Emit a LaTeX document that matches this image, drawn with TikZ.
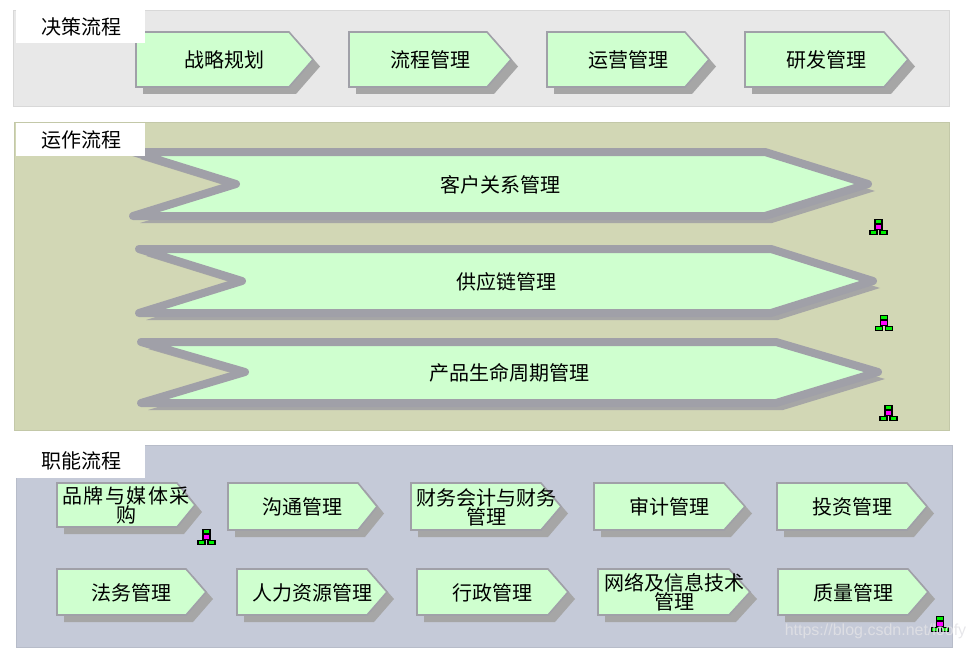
\documentclass[tikz,border=0pt]{standalone}
\usepackage{fontspec}
\setmainfont{Noto Sans CJK SC}
\newfontfamily\markfont{Liberation Sans}
\newcommand{\wideText}{\addfontfeatures{LetterSpace=7.5}}
\definecolor{panelGrey}{HTML}{E8E8E8}
\definecolor{panelOlive}{HTML}{D2D7B5}
\definecolor{panelBlue}{HTML}{C5CAD8}
\definecolor{arrowFill}{HTML}{CFFFCF}
\definecolor{arrowEdge}{HTML}{A0A0A8}
\definecolor{arrowShadow}{HTML}{A6A6A6}
\definecolor{iconGreen}{HTML}{00F000}
\definecolor{iconPink}{HTML}{FF00FF}
\definecolor{markGrey}{HTML}{E2E2E6}
\begin{document}
\begin{tikzpicture}
[x=1pt,y=-1pt,
  panelDecorate/.style={draw=#1!93!black,line width=0.8pt,fill=#1},
  titleDecorate/.style={shape=rectangle,fill=white,minimum width=129pt,minimum height=33pt,inner sep=0pt,font=\fontsize{20}{20}\selectfont},
  labelDecorate/.style={shape=rectangle,align=center,inner sep=0pt,yshift=-0.5pt,font=\fontsize{20}{19}\selectfont},
  arrowDecorate/.style={draw=arrowEdge,line width=1.6pt,fill=arrowFill},
  bigDecorate/.style={draw=arrowEdge,line width=8pt,line join=round,fill=arrowFill},
  shadowDecorate/.style={fill=arrowShadow},
  iconBox/.style={shape=rectangle,minimum width=7pt,minimum height=4.5pt,inner sep=0pt,outer sep=0pt,draw=black,line width=1.1pt,fill=#1},
  iconLine/.style={draw=black!60,line width=0.8pt}]
\useasboundingbox (0,0) rectangle (973,650);
%% panels
\foreach \panelname/\xa/\ya/\xb/\yb/\col in {
  decision/13/10/949/106/panelGrey,
  operation/14/122/949/430/panelOlive,
  support/16/445/952/647/panelBlue}
{
  \draw[panelDecorate=\col] (\xa,\ya) rectangle (\xb,\yb);
}
%% small arrows: name/left/shoulder/tip/top/bottom/label
\foreach \nodename/\xl/\xs/\xt/\yt/\yb/\txt in {
  plan/136/289/313/32/87/战略规划,
  flow/349/487/511/32/87/流程管理,
  oper/547/685/709/32/87/运营管理,
  rnd/745/884/908/32/87/研发管理,
  brand/57/177/195/483/527/{\wideText 品牌与媒体采\\购},
  comm/228/358/377/483/530/沟通管理,
  fin/411/541/561/483/530/{财务会计与财务\\管理},
  audit/594/724/745/483/530/审计管理,
  invest/777/907/927/483/530/投资管理,
  legal/57/186/206/569/615/法务管理,
  hr/237/367/387/569/615/人力资源管理,
  admin/417/548/568/569/615/行政管理,
  net/598/729/750/569/615/{网络及信息技术\\管理},
  quality/778/908/928/569/615/质量管理}
{
  \pgfmathsetmacro{\ym}{(\yt+\yb)/2}
  \path[shadowDecorate,shift={(7,7)}] (\xl,\yt) -- (\xs,\yt) -- (\xt,\ym) -- (\xs,\yb) -- (\xl,\yb) -- cycle;
  \draw[arrowDecorate] (\xl,\yt) -- (\xs,\yt) -- (\xt,\ym) -- (\xs,\yb) -- (\xl,\yb) -- cycle;
  \node[labelDecorate] (\nodename) at ({(\xl+\xt)/2},\ym) {\txt};
}
%% big chevrons: name/left/notch/shoulder/tip/top/mid/bottom/label
\foreach \nodename/\xl/\xn/\xs/\xt/\yt/\ym/\yb/\txt/\xc in {
  customer/133/236/765/868/152/184/216/客户关系管理/500,
  supply/139/242/771/873/249/281/313/供应链管理/506,
  product/141/245/776/878/342/372/403/产品生命周期管理/509}
{
  \path[shadowDecorate,shift={(7,7)}] (\xl,\yt) -- (\xs,\yt) -- (\xt,\ym) -- (\xs,\yb) -- (\xl,\yb) -- (\xn,\ym) -- cycle;
  \draw[bigDecorate] (\xl,\yt) -- (\xs,\yt) -- (\xt,\ym) -- (\xs,\yb) -- (\xl,\yb) -- (\xn,\ym) -- cycle;
  \node[labelDecorate] (\nodename) at (\xc,\ym) {\txt};
}
%% panel titles
\foreach \nodename/\y/\lift/\txt in {
  titleA/26.5/1/决策流程, titleB/139.5/1/运作流程, titleC/461.5/2/职能流程}
{
  \node[titleDecorate] (\nodename) at (80.5,\y) {\hspace*{2pt}\raisebox{\lift pt}{\txt}};
}
%% icons
\foreach \nodename/\x/\y in {
  orgA/878.5/227, orgB/884/323, orgC/888.5/413, orgD/206.5/537, orgE/940/624}
{
  \begin{scope}[shift={(\x,\y)}]
    \draw[iconLine] (0,0) -- (-4,7) (0,0) -- (5,7);
    \node[iconBox=iconGreen] (\nodename top) at (0,-5.5) {};
    \node[iconBox=iconPink] (\nodename mid) at (0,0) {};
    \node[iconBox=iconGreen] (\nodename left) at (-5,5.5) {};
    \node[iconBox=iconGreen] (\nodename right) at (5,5.5) {};
  \end{scope}
}
\node[text=markGrey,opacity=0.85,inner sep=0pt,font=\markfont\fontsize{16}{16}\selectfont] (mark) at (875.5,631) {https://blog.csdn.net/loofy};
\end{tikzpicture}
\end{document}
